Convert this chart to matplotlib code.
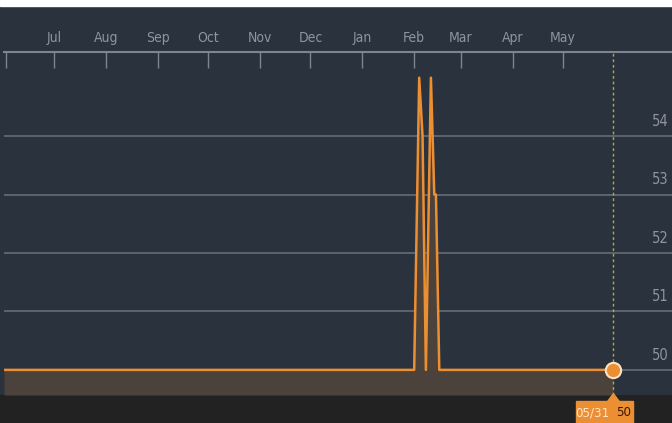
import matplotlib.pyplot as plt
import matplotlib.dates as mdates
from matplotlib.patches import Rectangle, Polygon
import pandas as pd

# series
dates = pd.to_datetime(['2022-06-01', '2023-02-01', '2023-02-04', '2023-02-06',
                        '2023-02-08', '2023-02-11', '2023-02-13', '2023-02-14',
                        '2023-02-16', '2023-05-31'])
values = [50, 50, 55, 54, 50, 55, 53, 53, 50, 50]
y_ticks = [50, 51, 52, 53, 54]
last_label = '05/31'

bg = '#29323d'
orange = '#ec8f33'
plt.rcParams['font.family'] = ['DejaVu Sans']
plt.rcParams['font.stretch'] = 'condensed'

fig = plt.figure(figsize=(6.72, 4.23), dpi=100, facecolor=bg)
W, H = 672, 423
# white strip at top, dark strip at bottom (behind the axes)
fig.patches.append(Rectangle((0, 1 - 6 / H), 1, 6 / H, transform=fig.transFigure,
                             color='white', zorder=-1))
fig.patches.append(Rectangle((0, 0), 1, 28 / H, transform=fig.transFigure,
                             color='#222222', zorder=-1))

ax = fig.add_axes([4 / W, 28 / H, 668 / W, (395 - 52) / H])
ax.set_facecolor(bg)
ax.set_xlim(pd.Timestamp('2022-06-01'), pd.Timestamp('2023-07-05'))
ax.set_ylim(49.57, 55.44)

for v in y_ticks:
    ax.axhline(v, color='#636c77', lw=1.2, zorder=1)
    ax.text(0.982, v + 0.25, str(v), transform=ax.get_yaxis_transform(),
            ha='center', va='center', color='#8e959e', fontsize=10.5)

ax.fill_between(dates, values, 49.57, color='#4b423b', lw=0, zorder=2)
ax.plot(dates, values, color=orange, lw=1.8, zorder=3)

last = dates[-1]
ax.axvline(last, color='#c9a23c', lw=1, ls=(0, (2, 2)), zorder=2)
ax.plot([last], [values[-1]], 'o', ms=11, mfc=orange, mec='#fbe3c8', mew=1.5,
        zorder=5, clip_on=False)

# tooltip box under the axis
tr = ax.get_xaxis_transform()
lx = mdates.date2num(last)
ax.add_patch(Rectangle((lx - 22.5, -0.085), 34.1, 0.067, transform=tr,
                       color=orange, clip_on=False, zorder=5))
ax.add_patch(Polygon([(lx - 3.5, -0.019), (lx + 3.5, -0.019), (lx, 0.004)],
                     closed=True, transform=tr, color=orange, clip_on=False, zorder=5))
ax.text(lx - 12.5, -0.052, last_label, transform=tr, ha='center', va='center',
        color='#fde6cc', fontsize=9.5, zorder=6)
ax.text(lx + 6, -0.052, str(values[-1]), transform=tr, ha='center', va='center',
        color='#3a1800', fontsize=9.5, zorder=6)

# month axis on top
ticks = list(pd.date_range('2022-07-01', '2023-05-01', freq='MS'))
ax.set_xticks([pd.Timestamp('2022-06-02')] + ticks)
ax.set_xticklabels([''] + [t.strftime('%b') for t in ticks])
ax.xaxis.tick_top()
ax.tick_params(axis='x', direction='in', length=11.5, width=1, color='#7d858f',
               labelcolor='#8e959e', labelsize=10, pad=5)
ax.set_yticks([])
for s in ['left', 'right', 'bottom']:
    ax.spines[s].set_visible(False)
ax.spines['top'].set_color('#7d858f')
ax.spines['top'].set_linewidth(1.5)

fig.savefig('out.png', dpi=100, facecolor=bg)
